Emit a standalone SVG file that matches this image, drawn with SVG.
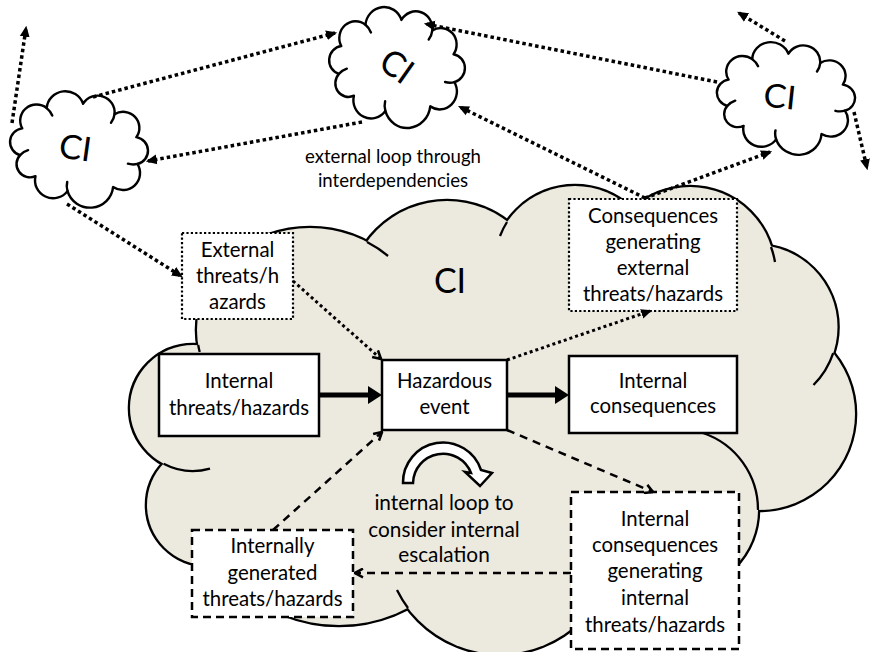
<svg xmlns="http://www.w3.org/2000/svg" width="871" height="652" viewBox="0 0 871 652">
<style>
  text { font-family: Lato, "Liberation Sans", sans-serif; fill: #000; }
  .lbl { font-size: 20.4px; text-anchor: middle; }
  .lbl-loop { font-size: 20.8px; text-anchor: middle; }
  .lbl-ext { font-size: 18.6px; text-anchor: middle; }
  .ci { font-size: 34px; text-anchor: middle; }
  .ci-s { font-size: 28px; text-anchor: middle; }
  .box { fill: #fff; stroke: #000; stroke-width: 2.5; }
  .dotted { stroke-width: 2.2; stroke-dasharray: 2.2 2.2; }
  .dashed { stroke-dasharray: 8 5; }
  .puff { fill: #fff; stroke: #000; stroke-width: 2; stroke-linejoin: round; vector-effect: non-scaling-stroke; }
  .puff-tail { fill: none; stroke: #000; stroke-width: 2; stroke-linecap: round; vector-effect: non-scaling-stroke; }
  .cloud-edge { fill: #ECE9DF; stroke: #000; stroke-width: 4.6; }
  .cloud-fill { fill: #ECE9DF; stroke: none; }
  .cloud-tail { fill: none; stroke: #000; stroke-width: 2.3; }
  .link { fill: none; stroke: #000; }
  .thick { stroke-width: 5; marker-end: url(#head-big); }
  .dots { stroke-width: 3.5; stroke-dasharray: 3.5 3; marker-end: url(#head); }
  .dots-in { stroke-width: 3; stroke-dasharray: 3 3; }
  .dash { stroke-width: 2.5; stroke-dasharray: 8 6; marker-end: url(#head-open); }
  .open-v { marker-end: url(#head-open); }
  .loop { fill: #fff; stroke: #000; stroke-width: 2.5; stroke-linejoin: miter; }
</style>
<defs>
  <marker id="head" viewBox="0 0 10 10" refX="8" refY="5" markerUnits="userSpaceOnUse" markerWidth="11" markerHeight="11" orient="auto" preserveAspectRatio="none">
    <path d="M0,0.5 L10,5 L0,9.5 Z" fill="#000"/>
  </marker>
  <marker id="head-big" viewBox="0 0 10 10" refX="0" refY="5" markerUnits="userSpaceOnUse" markerWidth="14" markerHeight="18" orient="auto" preserveAspectRatio="none">
    <path d="M0,0 L10,5 L0,10 Z" fill="#000"/>
  </marker>
  <marker id="head-open" viewBox="0 0 10 10" refX="9" refY="5" markerUnits="userSpaceOnUse" markerWidth="10" markerHeight="11" orient="auto" preserveAspectRatio="none">
    <path d="M1,1 L9,5 L1,9" fill="none" stroke="#000" stroke-width="2.4" stroke-dasharray="none"/>
  </marker>
  <!-- bumpy outline used for the small CI clouds -->
  <path id="puff" d="M-48.3,-9.6 A13.4,13.4 0 0 1 -30.8,-29.2 A15.4,15.4 0 0 1 -1.7,-37 A13.9,13.9 0 0 1 25,-32 A13.3,13.3 0 0 1 45.3,-15.6 A11.4,11.4 0 0 1 49.2,6.4 A14.2,14.2 0 0 1 32.1,28.3 A19.1,19.1 0 0 1 -4.4,36.9 A14.8,14.8 0 0 1 -32.1,28.3 A11,11 0 0 1 -47,12.7 A11.4,11.4 0 0 1 -48.3,-9.6 Z"/>
  <path id="puff-tails" d="M-30.8,-29.2 Q-27.4,-27.2 -25.4,-23.7 M25,-32 Q25.1,-28 23.1,-24.5 M49.2,6.4 Q45.5,7.9 41.5,7.3 M-4.4,36.9 Q-6.1,33.3 -5.7,29.3 M-47,12.7 Q-44.7,9.4 -41.1,7.7"/>
  <!-- lobes of the large CI cloud -->
  <g id="ci-lobes">
    <ellipse cx="310" cy="330" rx="113" ry="102"/>
    <circle cx="447" cy="300" r="99"/>
    <circle cx="575" cy="268" r="82"/>
    <circle cx="690" cy="272" r="85"/>
    <circle cx="755.5" cy="327" r="82"/>
    <circle cx="759" cy="414" r="96"/>
    <circle cx="677" cy="510" r="81"/>
    <circle cx="500" cy="539" r="115"/>
    <circle cx="339" cy="477" r="148"/>
    <circle cx="207" cy="505" r="60"/>
    <circle cx="193" cy="408" r="63"/>
  </g>
</defs>

<!-- large system cloud -->
<g id="ci-main">
  <use href="#ci-lobes" class="cloud-edge"/>
  <use href="#ci-lobes" class="cloud-fill"/>
  <polygon class="cloud-fill" points="198,345 367,242 507,222 620,225 771,247 833,353 758,510 700,570 570,630 408,608 300,600 195,560 164,464"/>
  <path class="cloud-tail" d="M367,242 A113,102 0 0 1 388,256 M198.2,345 A113,102 0 0 0 199.7,352 M507,222 A82,82 0 0 0 500,236 M771,247 A85,85 0 0 1 775,262 M833.2,353.1 A82,82 0 0 1 813.5,385 M703,433 A81,81 0 0 1 758,510 M408,608 A115,115 0 0 1 397,590 M163.6,463.7 A63,63 0 0 0 210,468.6"/>
  <text class="ci" x="450" y="293">CI</text>
</g>

<!-- neighbouring infrastructures -->
<g id="ci-west" transform="translate(79,148) rotate(8) scale(1.22,1.2)">
  <use href="#puff" class="puff"/>
  <use href="#puff-tails" class="puff-tail"/>
  <text class="ci-s" x="-3" y="10">CI</text>
</g>
<g id="ci-north" transform="translate(397,66) rotate(8) scale(1.2,1.25)">
  <use href="#puff" class="puff"/>
  <use href="#puff-tails" class="puff-tail"/>
  <text class="ci-s" transform="rotate(28)" y="10">CI</text>
</g>
<g id="ci-east" transform="translate(786,97) rotate(6) scale(1.22,1.17)">
  <use href="#puff" class="puff"/>
  <use href="#puff-tails" class="puff-tail"/>
  <text class="ci-s" x="-5" y="10">CI</text>
</g>

<g id="external-loop-label">
  <text class="lbl-ext" x="393" y="163">external loop through</text>
  <text class="lbl-ext" x="393" y="187">interdependencies</text>
</g>

<!-- boxes -->
<g id="external-threats">
  <rect class="box dotted" x="182" y="233" width="111" height="86"/>
  <text class="lbl" x="237.5" y="257">External</text>
  <text class="lbl" x="237.5" y="283">threats/h</text>
  <text class="lbl" x="237.5" y="309">azards</text>
</g>
<g id="internal-threats">
  <rect class="box" x="159" y="354" width="160" height="82"/>
  <text class="lbl" x="239" y="388">Internal</text>
  <text class="lbl" x="239" y="415">threats/hazards</text>
</g>
<g id="hazardous-event">
  <rect class="box" x="382" y="360" width="125" height="70"/>
  <text class="lbl" x="444.5" y="388">Hazardous</text>
  <text class="lbl" x="444.5" y="414">event</text>
</g>
<g id="internal-consequences">
  <rect class="box" x="569" y="356" width="168" height="77"/>
  <text class="lbl" x="653" y="388">Internal</text>
  <text class="lbl" x="653" y="413">consequences</text>
</g>
<g id="consequences-external">
  <rect class="box dotted" x="569" y="199" width="168" height="112"/>
  <text class="lbl" x="653" y="223">Consequences</text>
  <text class="lbl" x="653" y="249">generating</text>
  <text class="lbl" x="653" y="275">external</text>
  <text class="lbl" x="653" y="301">threats/hazards</text>
</g>
<g id="internally-generated">
  <rect class="box dashed" x="192" y="530" width="161" height="87"/>
  <text class="lbl" x="272.5" y="553">Internally</text>
  <text class="lbl" x="272.5" y="580">generated</text>
  <text class="lbl" x="272.5" y="606">threats/hazards</text>
</g>
<g id="internal-consequences-generating">
  <rect class="box dashed" x="571" y="492" width="168" height="157"/>
  <text class="lbl" x="655" y="526">Internal</text>
  <text class="lbl" x="655" y="552">consequences</text>
  <text class="lbl" x="655" y="578">generating</text>
  <text class="lbl" x="655" y="605">internal</text>
  <text class="lbl" x="655" y="632">threats/hazards</text>
</g>

<!-- internal escalation loop -->
<g id="internal-loop">
  <path class="loop" d="M403,483 A40,40 0 0 1 481,470 L492,473 L480,486 L465,472 L471,473 A30,30 0 0 0 413,483 Z"/>
  <text class="lbl-loop" x="444" y="510">internal loop to</text>
  <text class="lbl-loop" x="444" y="537">consider internal</text>
  <text class="lbl-loop" x="444" y="562">escalation</text>
</g>

<!-- connectors -->
<g id="connectors">
  <path class="link thick" d="M319,395 L368,395"/>
  <path class="link thick" d="M507,395 L555,395"/>
  <path class="link dots dots-in open-v" d="M293,281 L381,359"/>
  <path class="link dots dots-in" d="M507,360 L650,311"/>
  <path class="link dash" d="M273,530 L382,432"/>
  <path class="link dash" d="M507,430 L653,492"/>
  <path class="link dash" d="M571,573 L355,573"/>
  <path class="link dots" d="M12,123 L26,28"/>
  <path class="link dots" d="M93,97 L335,33"/>
  <path class="link dots" d="M362,122 L148,161"/>
  <path class="link dots" d="M717,82 L426,24"/>
  <path class="link dots" d="M645,198 L460,107"/>
  <path class="link dots" d="M645,198 L770,152"/>
  <path class="link dots" d="M785,41 L739,13"/>
  <path class="link dots" d="M854,112 L867,168"/>
  <path class="link dots" d="M67,204 L181,276"/>
</g>
</svg>
